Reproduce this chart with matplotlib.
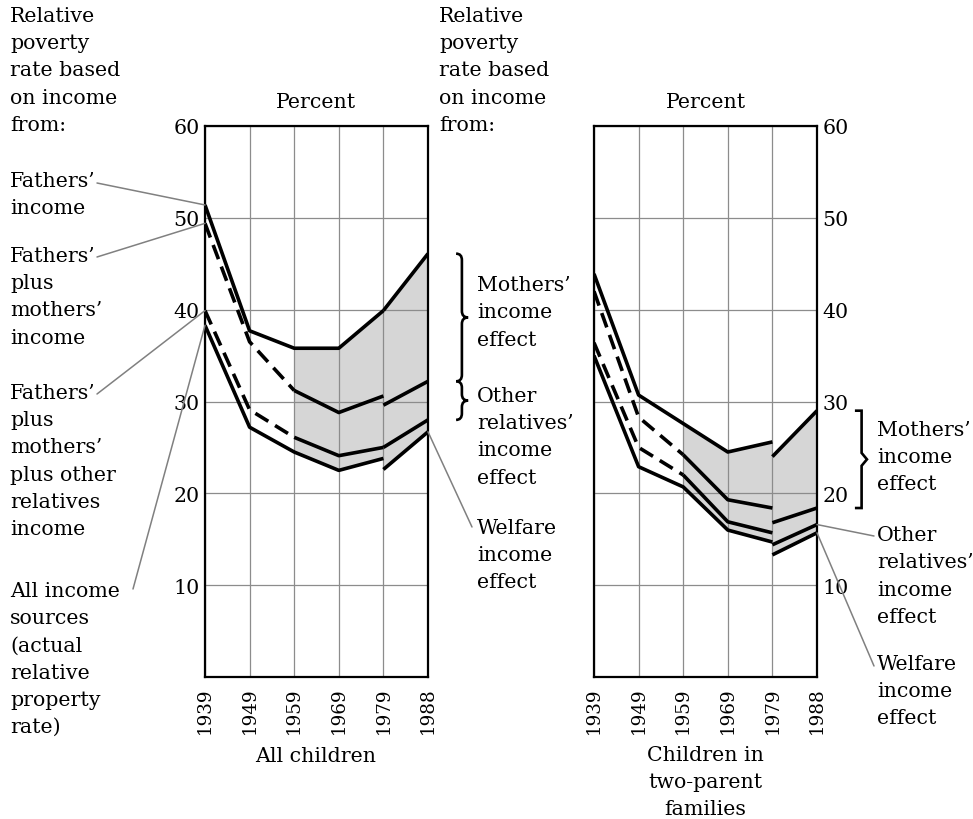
import matplotlib
matplotlib.use('Agg')
import matplotlib.pyplot as plt
from matplotlib.path import Path
from matplotlib.patches import PathPatch
import matplotlib.transforms as mtransforms

# data (percent), 1979 has a break in most series
years = ['1939', '1949', '1959', '1969', '1979', '1988']

# All children
all_fathers = [51.4, 37.7, 35.8, 35.8, 39.9]
all_fathers_late = [39.9, 46.1]
all_fm = [49.4, 36.5, 31.2, 28.8, 30.6]
all_fm_late = [29.6, 32.2]
all_fmo = [39.9, 29.1, 26.1, 24.1, 25.0]
all_fmo_late = [25.0, 28.0]
all_total = [38.3, 27.2, 24.5, 22.5, 23.8]
all_total_late = [22.6, 26.7]

# Children in two-parent families
two_fathers = [43.9, 30.7, 27.6, 24.5, 25.6]
two_fathers_late = [24.0, 29.0]
two_fm = [42.0, 28.3, 24.2, 19.3, 18.4]
two_fm_late = [16.8, 18.4]
two_fmo = [36.4, 25.0, 22.0, 16.9, 15.7]
two_fmo_late = [14.4, 16.6]
two_total = [35.0, 22.9, 20.7, 16.0, 14.7]
two_total_late = [13.3, 15.7]

FS = 14.8
plt.rcParams['font.family'] = 'DejaVu Serif'
plt.rcParams['font.size'] = FS

W, H = 973, 820
fig = plt.figure(figsize=(W / 100, H / 100), dpi=100)


def px(x, y):
    return x / W, 1 - y / H


LS = 1.55
GRAY_LEAD = '#808080'
DASH = (0, (4.2, 2.2))


def draw_panel(ax, fathers, fathers_late, fm, fm_late, fmo, fmo_late, total, total_late, right=False):
    x_early = list(range(5))
    x_late = [4, 5]
    # shaded band from 1959 on
    fx = x_early[2:] + x_late
    ax.fill_between(fx, total[2:] + total_late, fathers[2:] + fathers_late,
                    color='#d6d6d6', lw=0, zorder=1)
    kw = dict(color='black', lw=2.6, solid_capstyle='butt', zorder=3)
    ax.plot(x_early, fathers, **kw)
    ax.plot(x_late, fathers_late, **kw)
    for early, late in [(fm, fm_late), (fmo, fmo_late)]:
        ax.plot(x_early[:3], early[:3], linestyle=DASH, **kw)
        ax.plot(x_early[2:], early[2:], **kw)
        ax.plot(x_late, late, **kw)
    ax.plot(x_early, total, **kw)
    ax.plot(x_late, total_late, **kw)

    ax.set_xlim(0, 5)
    ax.set_ylim(0, 60)
    ax.set_xticks(range(6))
    ax.set_xticklabels(years, rotation=90)
    ax.set_yticks([10, 20, 30, 40, 50, 60])
    ax.grid(True, color='#8c8c8c', lw=0.9)
    ax.tick_params(length=0, pad=4, labelsize=FS)
    ax.tick_params(axis='x', pad=7, labelsize=13.2)
    if right:
        ax.yaxis.tick_right()
    for s in ax.spines.values():
        s.set_linewidth(1.6)


def brace(ax, y_top, y_bot, xa, xb, xc, square=False):
    tr = mtransforms.blended_transform_factory(ax.transAxes, ax.transData)
    ym = (y_top + y_bot) / 2
    c = 0.7
    if square:
        verts = [(xa, y_top), (xb, y_top), (xb, ym + c), (xc, ym), (xb, ym - c), (xb, y_bot), (xa, y_bot)]
        codes = [Path.MOVETO] + [Path.LINETO] * 6
    else:
        verts = [(xa, y_top), (xb, y_top), (xb, y_top - c),
                 (xb, ym + c), (xb, ym), (xc, ym),
                 (xb, ym), (xb, ym - c),
                 (xb, y_bot + c), (xb, y_bot), (xa, y_bot)]
        codes = [Path.MOVETO, Path.CURVE3, Path.CURVE3,
                 Path.LINETO, Path.CURVE3, Path.CURVE3,
                 Path.CURVE3, Path.CURVE3,
                 Path.LINETO, Path.CURVE3, Path.CURVE3]
    patch = PathPatch(Path(verts, codes), transform=tr, fill=False, lw=1.9,
                      edgecolor='black', clip_on=False)
    ax.add_patch(patch)


def leader(ax, x, y, tx, ty):
    ax.annotate('', xy=(x, y), xycoords='data', xytext=px(tx, ty), textcoords='figure fraction',
                arrowprops=dict(arrowstyle='-', color=GRAY_LEAD, lw=1.1, shrinkA=0, shrinkB=0),
                annotation_clip=False)


ax1 = fig.add_axes([205 / W, 1 - 678 / H, 223 / W, 551 / H])
ax2 = fig.add_axes([594 / W, 1 - 678 / H, 223 / W, 551 / H])

draw_panel(ax1, all_fathers, all_fathers_late, all_fm, all_fm_late,
           all_fmo, all_fmo_late, all_total, all_total_late)
draw_panel(ax2, two_fathers, two_fathers_late, two_fm, two_fm_late,
           two_fmo, two_fmo_late, two_total, two_total_late, right=True)


def label(x, y, s, **kw):
    fig.text(*px(x, y), s, va='top', ha='left', linespacing=LS, **kw)


# left side texts
label(10, 7, 'Relative\npoverty\nrate based\non income\nfrom:')
label(10, 172, 'Fathers’\nincome')
label(10, 247, 'Fathers’\nplus\nmothers’\nincome')
label(10, 384, 'Fathers’\nplus\nmothers’\nplus other\nrelatives\nincome')
label(10, 582, 'All income\nsources\n(actual\nrelative\nproperty\nrate)')

# middle texts
label(439, 7, 'Relative\npoverty\nrate based\non income\nfrom:')
label(477, 276, 'Mothers’\nincome\neffect')
label(477, 387, 'Other\nrelatives’\nincome\neffect')
label(477, 519, 'Welfare\nincome\neffect')

# right texts
label(877, 421, 'Mothers’\nincome\neffect')
label(877, 526, 'Other\nrelatives’\nincome\neffect')
label(877, 655, 'Welfare\nincome\neffect')

fig.text(*px(316, 102), 'Percent', ha='center', va='center')
fig.text(*px(706, 102), 'Percent', ha='center', va='center')
fig.text(*px(316, 757), 'All children', ha='center', va='center')
fig.text(*px(705, 746), 'Children in\ntwo-parent\nfamilies', ha='center', va='top',
         multialignment='center', linespacing=LS)

# leader lines
leader(ax1, 0, all_fathers[0], 97, 184)
leader(ax1, 0, all_fm[0], 97, 258)
leader(ax1, 0, all_fmo[0], 97, 395)
leader(ax1, 0, all_total[0], 133, 590)
leader(ax1, 5, all_total_late[1], 472, 528)
leader(ax2, 5, two_fmo_late[1], 874, 537)
leader(ax2, 5, two_total_late[1], 874, 667)

# effect brackets
brace(ax1, all_fathers_late[1], all_fm_late[1], 1.126, 1.152, 1.18)
brace(ax1, all_fm_late[1], all_fmo_late[1], 1.126, 1.152, 1.18)
brace(ax2, two_fathers_late[1], two_fm_late[1], 1.17, 1.2, 1.224, square=True)

fig.savefig('out.png', dpi=100)
